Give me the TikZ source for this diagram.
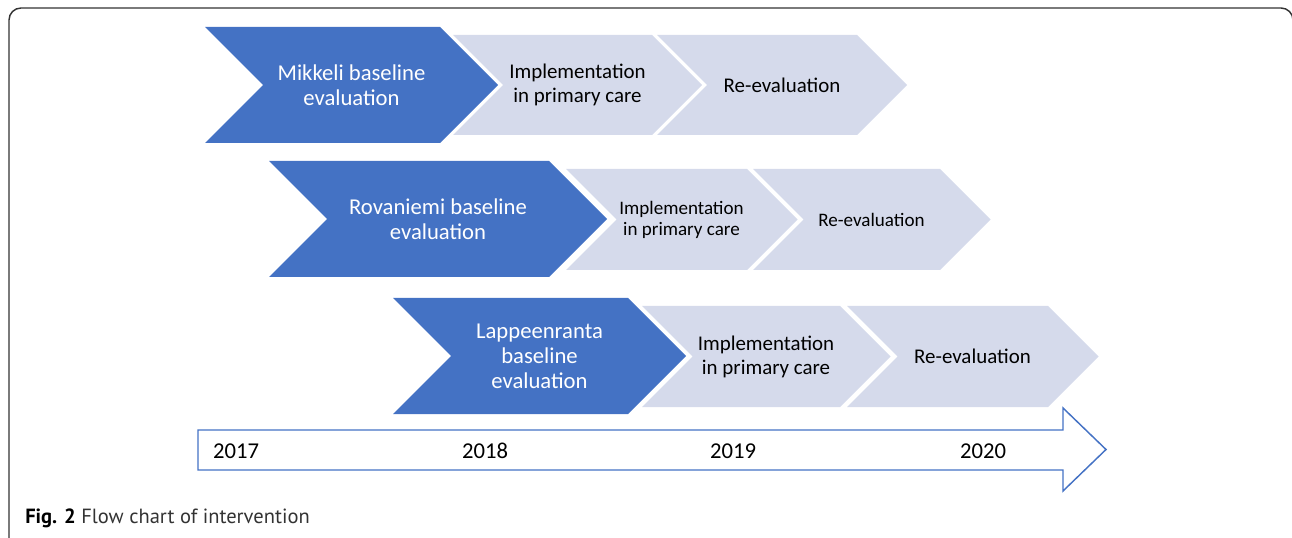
\documentclass[tikz,border=0pt]{standalone}
\usepackage{fontspec}
\setmainfont{Carlito}
\newfontfamily\capfont{PT Sans}
\definecolor{darkblue}{HTML}{4472C4}
\definecolor{paleblue}{HTML}{D5DAEB}
\definecolor{framegray}{HTML}{333333}
\newcommand{\chevron}[5]{\fill[#1] (#2,#4-#5) -- (#3,#4-#5) -- (#3+#5,#4) -- (#3,#4+#5) -- (#2,#4+#5) -- (#2+#5,#4) -- cycle;}

\begin{document}
\begin{tikzpicture}[x=0.75pt, y=-0.75pt,
  basetext/.style={align=center, text=white, inner sep=0pt, font=\fontsize{17}{18.75}\selectfont},
  steptext/.style={align=center, text=black, inner sep=0pt, font=\fontsize{15.7}{18}\selectfont},
  smallstep/.style={align=center, text=black, inner sep=0pt, font=\fontsize{14.3}{15.75}\selectfont},
  yeartext/.style={inner sep=0pt, font=\fontsize{17}{20}\selectfont}]

\useasboundingbox (0,0) rectangle (1292,538);
\begin{scope}
\clip (0,0) rectangle (1292,538);
\draw[line width=1.1pt, rounded corners=9pt, framegray] (9,8) rectangle (1293,550);
\end{scope}

\chevron{darkblue}{205}{440}{85}{58}
\chevron{paleblue}{453}{652}{85}{50}
\chevron{paleblue}{657}{857}{85}{50}
\node[basetext] (mikkeli) at (351.5,85) {Mikkeli baseline\\evaluation};
\node[steptext] (impl1) at (577.5,85) {Implementation\\in primary care};
\node[steptext] (reeval1) at (782,85) {Re-evaluation};

\chevron{darkblue}{269}{549}{219}{58}
\chevron{paleblue}{566}{747}{219.5}{50.5}
\chevron{paleblue}{753}{940}{219.5}{50.5}
\node[basetext] (rovaniemi) at (438,219.5) {Rovaniemi baseline\\evaluation};
\node[smallstep] (impl2) at (681.5,219.5) {Implementation\\in primary care};
\node[smallstep] (reeval2) at (871.5,219.5) {Re-evaluation};

\chevron{darkblue}{393}{628}{356}{58}
\chevron{paleblue}{642}{840}{356.5}{50.5}
\chevron{paleblue}{847}{1048}{356.5}{50.5}
\node[basetext] (lappeenranta) at (539.5,356) {Lappeenranta\\baseline\\evaluation};
\node[steptext] (impl3) at (766,356.5) {Implementation\\in primary care};
\node[steptext] (reeval3) at (972.5,356.5) {Re-evaluation};

\draw[darkblue, line width=1.1pt, line join=miter] (198,430) -- (1063,430) -- (1063,408) -- (1106,449.5) -- (1063,491) -- (1063,470) -- (198,470) -- cycle;
\node[yeartext] (y2017) at (236,451) {2017};
\node[yeartext] (y2018) at (485,451) {2018};
\node[yeartext] (y2019) at (733,451) {2019};
\node[yeartext] (y2020) at (983,451) {2020};

\node[anchor=west, inner sep=0pt, text=framegray, font=\capfont\fontsize{15.4}{18}\selectfont] (caption) at (25,518) {\textbf{\color{black}Fig. 2} Flow chart of intervention};
\end{tikzpicture}
\end{document}
